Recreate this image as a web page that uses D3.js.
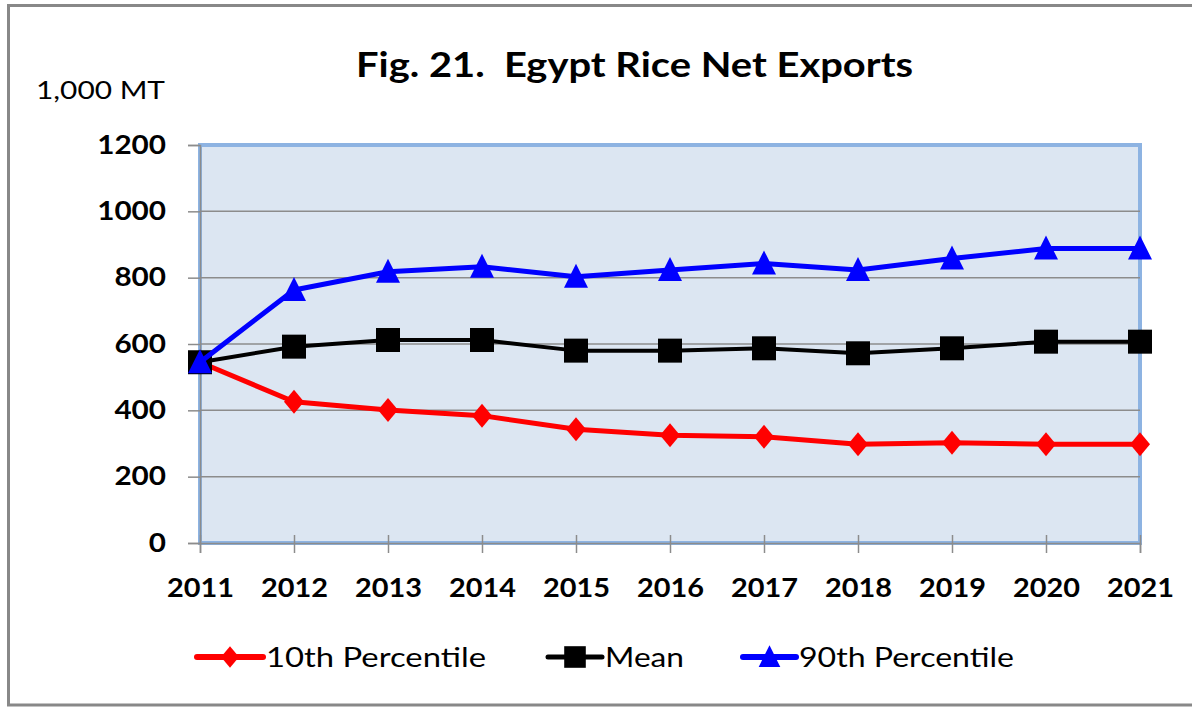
<!DOCTYPE html>
<html>
<head>
<meta charset="utf-8">
<script src="https://cdn.jsdelivr.net/npm/d3@7.9.0/dist/d3.min.js"></script>
<style>
  html, body { margin: 0; padding: 0; background: #fff; }
  svg { display: block; }
</style>
</head>
<body>
<div id="chart"></div>
<script>
// Data (1,000 MT)
const years = [2011, 2012, 2013, 2014, 2015, 2016, 2017, 2018, 2019, 2020, 2021];
const p10 = [545, 426, 401, 384, 343, 325, 320, 298, 302, 298, 298];
const mean = [545, 592, 612, 612, 580, 580, 587, 572, 587, 607, 607];
const p90 = [545, 763, 818, 833, 803, 823, 843, 823, 858, 888, 888];
const yTicks = [0, 200, 400, 600, 800, 1000, 1200];
const seriesNames = ["10th Percentile", "Mean", "90th Percentile"];

const width = 1192;
const height = 707;

// plot box
const plot = { left: 200, right: 1140, top: 145, bottom: 543 };

const svg = d3.select('#chart')
    .append('svg')
    .attr('width', width)
    .attr('height', height);

// outer frame (gray, no right edge visible)
svg.append('path')
    .attr('d', `M${width + 5},5.5 H8.5 V705 H${width + 5}`)
    .attr('fill', 'none')
    .attr('stroke', '#888')
    .attr('stroke-width', 3);

const xScale = d3.scaleLinear()
    .domain([2011, 2021])
    .range([plot.left, plot.right]);

const yScale = d3.scaleLinear()
    .domain([0, 1200])
    .range([plot.bottom, plot.top]);

// plot background
svg.append('rect')
    .attr('x', plot.left)
    .attr('y', plot.top)
    .attr('width', plot.right - plot.left)
    .attr('height', plot.bottom - plot.top)
    .attr('fill', '#dce6f2')
    .attr('stroke', '#8db3e2')
    .attr('stroke-width', 4);

// gridlines
svg.append('g')
    .selectAll('line')
    .data(yTicks.filter(d => d > 0 && d < 1200))
    .join('line')
    .attr('x1', plot.left)
    .attr('x2', plot.right)
    .attr('y1', d => yScale(d))
    .attr('y2', d => yScale(d))
    .attr('stroke', '#8c8c8c')
    .attr('stroke-width', 1.5);

// y axis
const yAxis = svg.append('g')
    .attr('transform', `translate(${plot.left}, 0)`)
    .call(d3.axisLeft(yScale).tickValues(yTicks).tickSize(12).tickPadding(22).tickFormat(d3.format('d')));
yAxis.select('.domain').attr('stroke', '#8c8c8c').attr('stroke-width', 1.5);
yAxis.selectAll('.tick line').attr('stroke', '#8c8c8c').attr('stroke-width', 1.5);
yAxis.selectAll('.tick text')
    .attr('fill', '#000')
    .style('font-family', 'Lato, sans-serif')
    .style('font-weight', 'bold')
    .style('font-size', '26px')
    .attr('textLength', d => String(d).length * 17.2)
    .attr('lengthAdjust', 'spacingAndGlyphs');

// x axis
const xAxis = svg.append('g')
    .attr('transform', `translate(0, ${plot.bottom})`)
    .call(d3.axisBottom(xScale).tickValues(years).tickSize(10).tickPadding(26).tickFormat(d3.format('d')));
xAxis.select('.domain').attr('stroke', '#8c8c8c').attr('stroke-width', 1.5);
xAxis.selectAll('.tick line').attr('stroke', '#8c8c8c').attr('stroke-width', 1.5).attr('y1', -8);
xAxis.selectAll('.tick text')
    .attr('fill', '#000')
    .style('font-family', 'Lato, sans-serif')
    .style('font-weight', 'bold')
    .style('font-size', '26px')
    .attr('textLength', 67)
    .attr('lengthAdjust', 'spacingAndGlyphs');

// title and unit
svg.append('text')
    .attr('x', 356)
    .attr('y', 77)
    .style('font-family', 'Lato, sans-serif')
    .style('font-weight', 'bold')
    .style('font-size', '35px')
    .attr('textLength', 557)
    .attr('lengthAdjust', 'spacingAndGlyphs')
    .attr('xml:space', 'preserve')
    .text('Fig. 21.  Egypt Rice Net Exports');

svg.append('text')
    .attr('x', 36)
    .attr('y', 99)
    .style('font-family', 'Lato, sans-serif')
    .style('font-size', '25px')
    .attr('textLength', 129)
    .attr('lengthAdjust', 'spacingAndGlyphs')
    .text('1,000 MT');

// series
const series = [
    { name: seriesNames[0], values: p10, color: '#ff0000', width: 5, symbol: 'diamond' },
    { name: seriesNames[1], values: mean, color: '#000000', width: 4, symbol: 'square' },
    { name: seriesNames[2], values: p90, color: '#0000ff', width: 5, symbol: 'triangle' }
];

function markerPath(symbol) {
    if (symbol === 'diamond') return 'M0,-12 L10,0 L0,12 L-10,0 Z';
    if (symbol === 'square') return 'M-12,-12 H12 V12 H-12 Z';
    return 'M0,-13 L12,11 L-12,11 Z';
}

const line = d3.line()
    .x((d, i) => xScale(years[i]))
    .y(d => yScale(d));

series.forEach(s => {
    const g = svg.append('g');
    g.append('path')
        .datum(s.values)
        .attr('d', line)
        .attr('fill', 'none')
        .attr('stroke', s.color)
        .attr('stroke-width', s.width)
        .attr('stroke-linejoin', 'round');
    g.selectAll('path.marker')
        .data(s.values)
        .join('path')
        .attr('class', 'marker')
        .attr('transform', (d, i) => `translate(${xScale(years[i])},${yScale(d)})`)
        .attr('d', markerPath(s.symbol))
        .attr('fill', s.color);
});

// legend
const legendY = 657;
const legendItems = [
    { lineX: 197, lineW: 66, textLen: 220 },
    { lineX: 548, lineW: 54, textLen: 79 },
    { lineX: 743, lineW: 53, textLen: 215 }
];
series.forEach((s, i) => {
    const it = legendItems[i];
    const g = svg.append('g');
    g.append('line')
        .attr('x1', it.lineX)
        .attr('x2', it.lineX + it.lineW)
        .attr('y1', legendY)
        .attr('y2', legendY)
        .attr('stroke', s.color)
        .attr('stroke-width', s.width + 1)
        .attr('stroke-linecap', 'round');
    g.append('path')
        .attr('transform', `translate(${it.lineX + it.lineW / 2},${legendY}) scale(0.9)`)
        .attr('d', markerPath(s.symbol))
        .attr('fill', s.color);
    g.append('text')
        .attr('x', it.lineX + it.lineW + 3)
        .attr('y', legendY + 10)
        .style('font-family', 'Lato, sans-serif')
        .style('font-size', '27px')
        .attr('textLength', it.textLen)
        .attr('lengthAdjust', 'spacingAndGlyphs')
        .text(s.name);
});
</script>
</body>
</html>
